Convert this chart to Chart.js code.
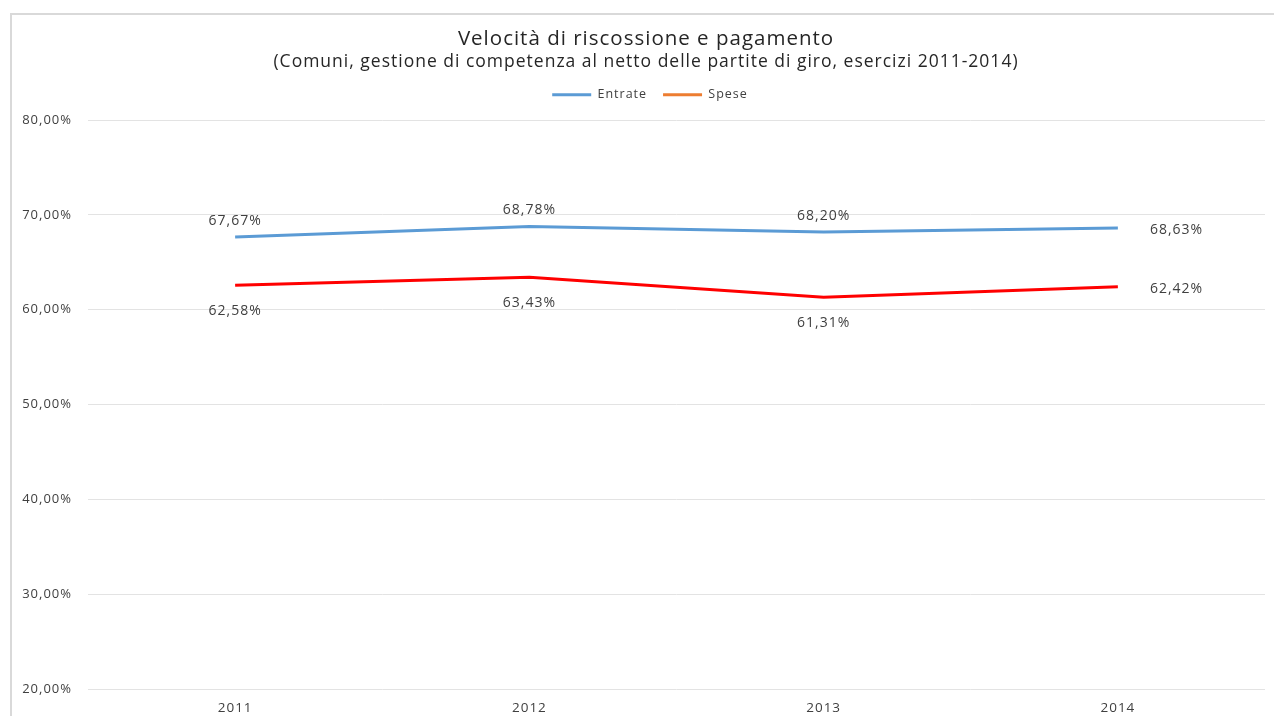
<!DOCTYPE html>
<html>
<head>
<meta charset="utf-8">
<script src="https://cdn.jsdelivr.net/npm/chart.js@4.4.1/dist/chart.umd.min.js"></script>
<style>
  html, body { margin: 0; padding: 0; background: #fff; }
  #wrap { position: relative; width: 1274px; height: 716px; overflow: hidden; }
  #bordo { position: absolute; left: 10px; top: 13px; right: -5px; bottom: -5px;
           border-top: 2px solid #d9d9d9; border-left: 2px solid #d9d9d9; }
  canvas { position: absolute; left: 0; top: 0; }
</style>
</head>
<body>
<div id="wrap">
  <div id="bordo"></div>
  <canvas id="grafico" width="1274" height="716"></canvas>
</div>
<script>
const anni = ["2011", "2012", "2013", "2014"];
const entrate = [67.67, 68.78, 68.20, 68.63];
const spese = [62.58, 63.43, 61.31, 62.42];
const tickPercentuali = [20, 30, 40, 50, 60, 70, 80];

const FONT = "'Open Sans', 'Noto Sans', sans-serif";

function formatoPerc(v) {
  return v.toFixed(2).replace(".", ",") + "%";
}

// il testo dell'originale è più largo: un po' di spaziatura tra le lettere
const spaziatura = {
  id: "spaziatura",
  beforeUpdate(chart) { chart.ctx.letterSpacing = "1px"; },
  beforeDraw(chart) { chart.ctx.letterSpacing = "1px"; }
};

// titolo e legenda nell'originale sono centrati un po' più a destra
const centratura = {
  id: "centratura",
  afterLayout(chart) {
    chart.boxes.forEach(b => {
      if (b.fullSize && b.position === "top") {
        const destra = b.right;
        b.left = b === chart.legend ? 35 : 27;
        b.width = destra - b.left;
      }
    });
  }
};

// etichette dei valori: sopra per Entrate, sotto per Spese, a destra sull'ultimo punto
const etichettePlugin = {
  id: "etichette",
  afterDatasetsDraw(chart) {
    const ctx = chart.ctx;
    ctx.save();
    ctx.font = "14px " + FONT;
    ctx.fillStyle = "#404040";
    ctx.textBaseline = "middle";
    chart.data.datasets.forEach((ds, di) => {
      const meta = chart.getDatasetMeta(di);
      meta.data.forEach((pt, i) => {
        const testo = formatoPerc(ds.data[i]);
        if (i === ds.data.length - 1) {
          ctx.textAlign = "left";
          ctx.fillText(testo, pt.x + 32, pt.y + 2);
        } else {
          ctx.textAlign = "center";
          ctx.fillText(testo, pt.x, di === 0 ? pt.y - 16 : pt.y + 26);
        }
      });
    });
    ctx.restore();
  }
};

new Chart(document.getElementById("grafico"), {
  type: "line",
  data: {
    labels: anni,
    datasets: [
      { label: "Entrate", data: entrate, borderColor: "#5b9bd5", backgroundColor: "#5b9bd5",
        borderWidth: 3, pointRadius: 0, tension: 0 },
      { label: "Spese", data: spese, borderColor: "#ff0000", backgroundColor: "#ed7d31",
        borderWidth: 3, pointRadius: 0, tension: 0 }
    ]
  },
  options: {
    responsive: false,
    animation: false,
    layout: { padding: { left: 0, right: 9, top: 20, bottom: 0 } },
    plugins: {
      title: {
        display: true,
        text: "Velocità di riscossione e pagamento",
        color: "#262626",
        font: { family: FONT, size: 20.5, weight: "normal" },
        padding: { top: 7, bottom: 0 }
      },
      subtitle: {
        display: true,
        text: "(Comuni, gestione di competenza al netto delle partite di giro, esercizi 2011-2014)",
        color: "#262626",
        font: { family: FONT, size: 17.5, weight: "normal" },
        padding: { top: 0, bottom: 0 }
      },
      legend: {
        display: true,
        labels: {
          color: "#404040",
          font: { family: FONT, size: 12.5 },
          boxWidth: 39,
          boxHeight: 3,
          padding: 16,
          generateLabels(chart) {
            return chart.data.datasets.map((ds, i) => ({
              text: ds.label,
              fillStyle: ds.backgroundColor,
              strokeStyle: ds.backgroundColor,
              lineWidth: 0,
              fontColor: "#404040",
              datasetIndex: i
            }));
          }
        }
      },
      tooltip: { enabled: false }
    },
    scales: {
      x: {
        offset: true,
        afterFit(scale) { scale.height = 27; },
        grid: { display: false, drawTicks: false },
        border: { display: false },
        ticks: { color: "#404040", font: { family: FONT, size: 13.5 }, padding: 11 }
      },
      // asse vuoto in alto, solo per lasciare spazio sotto la legenda
      xTop: {
        type: "category",
        position: "top",
        afterFit(scale) { scale.height = 9; },
        grid: { display: false, drawTicks: false },
        border: { display: false },
        ticks: { display: false }
      },
      y: {
        min: 20,
        max: 80,
        afterBuildTicks(scale) {
          scale.ticks = tickPercentuali.map(v => ({ value: v }));
        },
        afterFit(scale) { scale.width = 88; },
        grid: { color: "#e3e3e3", lineWidth: 1, drawTicks: false },
        border: { display: false },
        ticks: {
          color: "#404040",
          font: { family: FONT, size: 13 },
          padding: 16,
          callback: v => formatoPerc(v)
        }
      }
    }
  },
  plugins: [spaziatura, centratura, etichettePlugin]
});
</script>
</body>
</html>
